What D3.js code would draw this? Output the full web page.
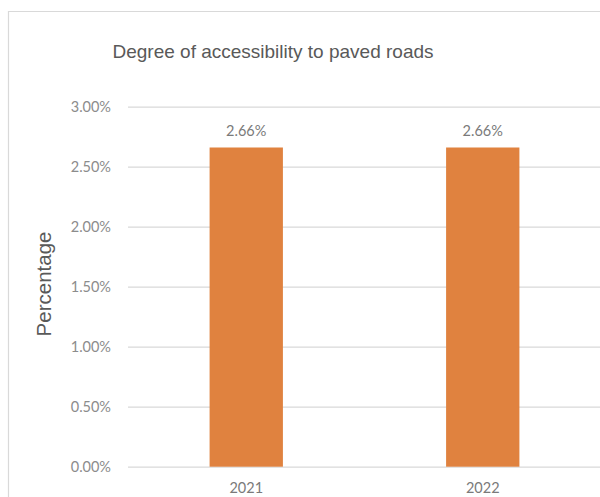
<!DOCTYPE html>
<html>
<head>
<meta charset="utf-8">
<script src="https://cdn.jsdelivr.net/npm/d3@7"></script>
<style>
  html, body { margin: 0; padding: 0; background: #fff; overflow: hidden; }
  svg { display: block; }
</style>
</head>
<body>
<svg id="chart" width="600" height="497"></svg>
<script>
// Chart data
const years = ["2021", "2022"];
const accessibility = [2.66, 2.66];          // percent
const yTicks = [0, 0.5, 1.0, 1.5, 2.0, 2.5, 3.0];
const chartTitle = "Degree of accessibility to paved roads";
const yTitle = "Percentage";

const svg = d3.select("#chart");

// plot area
const plot = { left: 128, right: 601, top: 106.7, bottom: 466.7 };

// outer frame of the chart (its right and bottom edges lie off-canvas)
svg.append("path")
  .attr("d", "M8.5,510 V11.5 H610")
  .attr("fill", "none")
  .attr("stroke", "#d9d9d9").attr("stroke-width", 1.2);

const x = d3.scaleBand()
  .domain(years)
  .range([plot.left, plot.right])
  .paddingInner(0.69).paddingOuter(0.345);

const y = d3.scaleLinear()
  .domain([0, 3])
  .range([plot.bottom, plot.top]);

// gridlines + tick labels
const yAxis = d3.axisLeft(y)
  .tickValues(yTicks)
  .tickSize(-(plot.right - plot.left) - 10)
  .tickPadding(17)
  .tickFormat(d => d.toFixed(2) + "%");

const gy = svg.append("g")
  .attr("transform", `translate(${plot.left},0)`)
  .call(yAxis);
gy.select(".domain").remove();
gy.selectAll(".tick line").attr("stroke", "#d9d9d9").attr("stroke-width", 1.2);
gy.selectAll(".tick text")
  .attr("fill", "#8c8c8c")
  .style("font-family", "Lato, 'Open Sans', sans-serif")
  .style("font-size", "14.5px");

// bars
svg.append("g").selectAll("rect")
  .data(years)
  .join("rect")
  .attr("x", d => x(d))
  .attr("width", x.bandwidth())
  .attr("y", (d, i) => y(accessibility[i]))
  .attr("height", (d, i) => y(0) - y(accessibility[i]))
  .attr("fill", "#E0823F");

// value labels
svg.append("g").selectAll("text")
  .data(years)
  .join("text")
  .attr("x", d => x(d) + x.bandwidth() / 2)
  .attr("y", (d, i) => y(accessibility[i]) - 12)
  .attr("text-anchor", "middle")
  .attr("fill", "#7a7a7a")
  .style("font-family", "Lato, 'Open Sans', sans-serif")
  .style("font-size", "14.5px")
  .text((d, i) => accessibility[i].toFixed(2) + "%");

// x-axis category labels
const xAxis = d3.axisBottom(x).tickSize(0).tickPadding(16);
const gx = svg.append("g")
  .attr("transform", `translate(0,${plot.bottom})`)
  .call(xAxis);
gx.select(".domain").remove();
gx.selectAll(".tick text")
  .attr("fill", "#7a7a7a")
  .style("font-family", "Lato, 'Open Sans', sans-serif")
  .style("font-size", "14.5px");

// title
svg.append("text")
  .attr("x", 273).attr("y", 58)
  .attr("text-anchor", "middle")
  .attr("fill", "#595959")
  .style("font-family", "'Liberation Sans', Arial, sans-serif")
  .style("font-size", "19px")
  .text(chartTitle);

// y-axis title
svg.append("text")
  .attr("transform", "translate(51,284) rotate(-90)")
  .attr("text-anchor", "middle")
  .attr("fill", "#595959")
  .style("font-family", "'Liberation Sans', Arial, sans-serif")
  .style("font-size", "20.5px")
  .text(yTitle);
</script>
</body>
</html>
